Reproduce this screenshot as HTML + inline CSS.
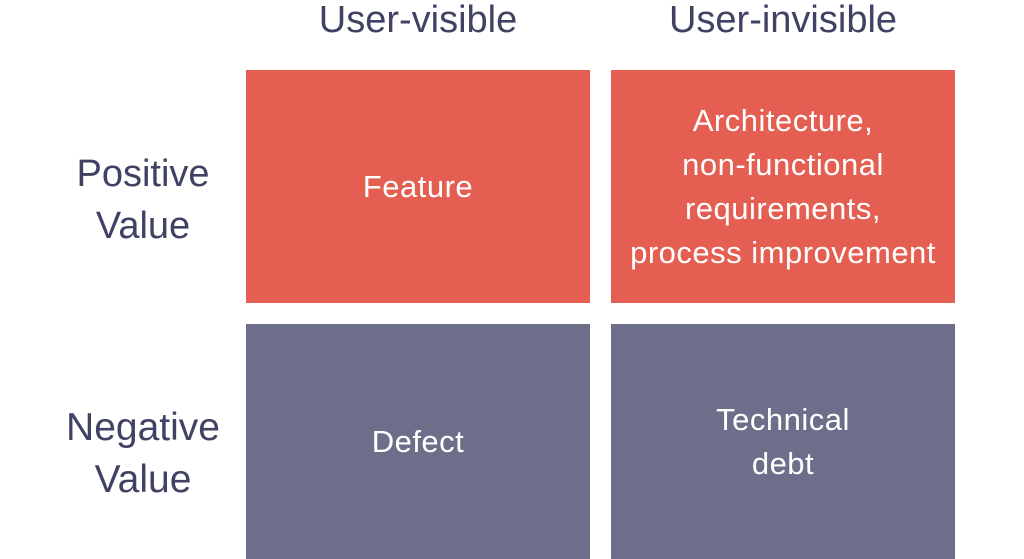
<!DOCTYPE html>
<html><head><style>
body{margin:0;width:1024px;height:559px;background:#fff;overflow:hidden;position:relative;font-family:"Liberation Sans",sans-serif;}
.h{position:absolute;color:#3f4262;font-size:38px;text-align:center;white-space:nowrap;}
.b{position:absolute;display:flex;align-items:center;justify-content:center;text-align:center;color:#fff;font-size:31px;line-height:44px;letter-spacing:0.5px;white-space:nowrap;}
.r{background:#e55e52}.s{background:#6d6f8a}
</style></head><body>
<div class="h" style="left:246px;width:344px;top:0px;line-height:40px;font-size:38px;">User-visible</div>
<div class="h" style="left:611px;width:344px;top:0px;line-height:40px;font-size:38px;">User-invisible</div>
<div class="h" style="left:40px;width:206px;top:148px;line-height:52px;font-size:38px;">Positive<br>Value</div>
<div class="h" style="left:40px;width:206px;top:402px;line-height:52px;font-size:39px;">Negative<br>Value</div>
<div class="b r" style="left:246px;top:70px;width:344px;height:233px;">Feature</div>
<div class="b r" style="left:611px;top:70px;width:344px;height:233px;">Architecture,<br>non-functional<br>requirements,<br>process improvement</div>
<div class="b s" style="left:246px;top:324px;width:344px;height:235px;">Defect</div>
<div class="b s" style="left:611px;top:324px;width:344px;height:235px;">Technical<br>debt</div>
</body></html>
